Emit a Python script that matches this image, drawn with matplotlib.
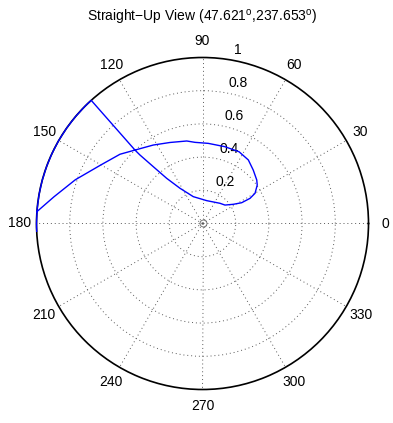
import numpy as np
import matplotlib
matplotlib.use('Agg')
import matplotlib.pyplot as plt

plt.rcParams['font.family'] = ['Liberation Sans', 'DejaVu Sans']
plt.rcParams['mathtext.fontset'] = 'custom'
plt.rcParams['mathtext.rm'] = 'Liberation Sans'

# track in degrees / normalised radius
theta_deg = [182.7, 180, 175, 170, 165, 160, 155, 150, 145, 140, 135, 132.1,
             132.6, 132.4, 130.9, 128.4, 122.6, 108.95, 79.6, 49.1, 39.4, 31.9,
             27.95, 27.9, 29.9, 35.1, 38.75, 46.5, 54.2, 63.0, 73.7, 85.9, 95.3,
             100.8, 111.9, 122.1, 132.6, 140.0, 150.1, 161.0, 169.8, 175.9]
radius = [1, 1, 1, 1, 1, 1, 1, 1, 1, 1, 1, 1,
          0.601, 0.559, 0.453, 0.347, 0.252, 0.171, 0.140, 0.161, 0.175, 0.219,
          0.267, 0.324, 0.365, 0.403, 0.419, 0.444, 0.472, 0.485, 0.482, 0.484, 0.491,
          0.506, 0.526, 0.558, 0.601, 0.649, 0.707, 0.810, 0.909, 1.0]

r_ticks = [0.2, 0.4, 0.6, 0.8, 1]
r_labels = ['0.2', '0.4', '0.6', '0.8', '1']
theta_ticks = [0, 30, 60, 90, 120, 150, 180, 210, 240, 270, 300, 330]

fig = plt.figure(figsize=(3.93, 4.23), dpi=100)
ax = fig.add_axes([36.5 / 393, (423 - 389.5) / 423, 332 / 393, 332 / 423],
                  projection='polar')

ax.plot(np.radians(theta_deg), radius, color='#0000ff', lw=1.0, clip_on=False, zorder=5)
ax.plot([0], [0], 'o', ms=5, mfc='none', mec='0.4', mew=0.6)

ax.set_ylim(0, 1)
ax.set_rticks(r_ticks[:-1])
ax.set_yticklabels([])
ax.set_thetagrids(theta_ticks, labels=[])
ax.grid(True, color='0.35', linestyle=(0, (1, 3)), lw=0.7)
ax.spines['polar'].set_linewidth(1.2)
ax.spines['polar'].set_color('black')
ax.tick_params(length=0)

for t in theta_ticks:
    ax.text(np.radians(t), 1.1, str(t), ha='center', va='center', fontsize=10)

for rv, lab in zip(r_ticks, r_labels):
    ax.annotate(lab, xy=(np.radians(82), rv), xytext=(8, 9),
                textcoords='offset pixels', ha='left', va='center', fontsize=10)

fig.text(202.5 / 393, 1 - 17 / 423,
         r'Straight$-$Up View (47.621$^{\rm o}$,237.653$^{\rm o}$)',
         ha='center', va='center', fontsize=10)

plt.savefig('out.png', dpi=100)
